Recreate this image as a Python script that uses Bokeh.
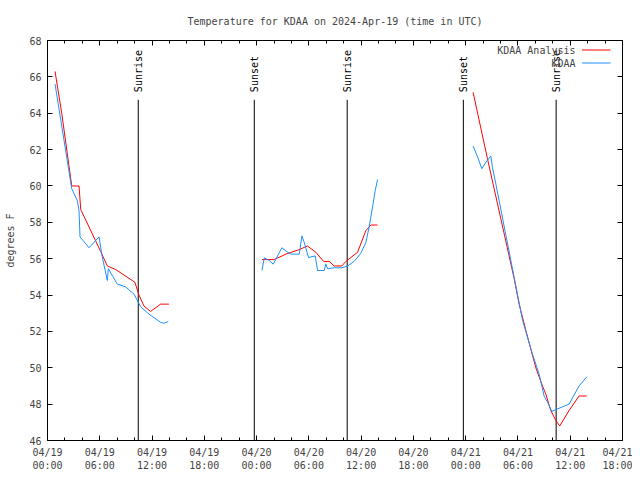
import math
from datetime import datetime
from bokeh.plotting import figure
from bokeh.models import FixedTicker, LinearAxis, Range1d, Label, Arrow
from bokeh.embed import file_html
from bokeh.resources import INLINE
from bokeh.core.properties import value

FONT = "DejaVu Sans Mono"
RED = "#ff0000"
BLUE = "#1e90ff"

# ---- data (UTC times, degrees F) ----
analysis_day1_times = ["04/19 00:52", "04/19 01:38", "04/19 02:47", "04/19 03:37", "04/19 03:49",
                       "04/19 06:06", "04/19 06:52", "04/19 07:50", "04/19 09:44", "04/19 10:02",
                       "04/19 10:30", "04/19 11:04", "04/19 11:50", "04/19 12:59", "04/19 13:56"]
analysis_day1_temps = [66.3, 64.0, 60.0, 60.0, 58.7, 56.4, 55.6, 55.4, 54.8, 54.7,
                       54.0, 53.4, 53.1, 53.5, 53.5]

analysis_day2_times = ["04/20 00:37", "04/20 02:01", "04/20 03:22", "04/20 04:54", "04/20 05:51",
                       "04/20 06:48", "04/20 07:42", "04/20 08:20", "04/20 08:54", "04/20 09:47",
                       "04/20 10:15", "04/20 11:35", "04/20 12:33", "04/20 13:07", "04/20 13:53"]
analysis_day2_temps = [55.95, 55.95, 56.25, 56.5, 56.7, 56.35, 55.85, 55.85, 55.6, 55.6,
                       55.85, 56.35, 57.55, 57.85, 57.85]

analysis_day3_times = ["04/21 00:51", "04/21 02:30", "04/21 05:34", "04/21 06:08", "04/21 07:06",
                       "04/21 08:03", "04/21 08:49", "04/21 09:12", "04/21 09:46", "04/21 10:21",
                       "04/21 10:48", "04/21 11:52", "04/21 13:01", "04/21 13:54"]
analysis_day3_temps = [65.15, 61.5, 54.9, 53.5, 51.7, 50.0, 49.0, 48.55, 47.65, 47.1,
                       46.8, 47.65, 48.45, 48.45]

obs_day1_times = ["04/19 00:52", "04/19 02:47", "04/19 03:25", "04/19 03:37", "04/19 03:44",
                  "04/19 04:46", "04/19 05:55", "04/19 06:17", "04/19 06:52", "04/19 06:59",
                  "04/19 08:01", "04/19 08:58", "04/19 09:56", "04/19 10:42", "04/19 11:39",
                  "04/19 12:59", "04/19 13:22", "04/19 13:52"]
obs_day1_temps = [65.6, 59.85, 59.2, 58.65, 57.2, 56.6, 57.2, 56.1, 54.8, 55.45,
                  54.6, 54.45, 54.05, 53.35, 52.95, 52.5, 52.45, 52.55]

obs_day2_times = ["04/20 00:37", "04/20 00:53", "04/20 01:27", "04/20 01:55", "04/20 02:54",
                  "04/20 03:34", "04/20 03:56", "04/20 04:54", "04/20 05:12", "04/20 05:28",
                  "04/20 05:58", "04/20 06:14", "04/20 06:44", "04/20 07:00", "04/20 07:46",
                  "04/20 07:57", "04/20 08:09", "04/20 08:54", "04/20 09:47", "04/20 10:27",
                  "04/20 11:12", "04/20 11:58", "04/20 12:33", "04/20 12:55", "04/20 13:19",
                  "04/20 13:37", "04/20 13:53"]
obs_day2_temps = [55.35, 56.05, 55.9, 55.7, 56.6, 56.35, 56.25, 56.25, 57.25, 56.9,
                  56.05, 56.1, 56.15, 55.35, 55.35, 55.7, 55.45, 55.5, 55.5, 55.6,
                  55.85, 56.3, 56.9, 57.75, 58.85, 59.75, 60.35]

obs_day3_times = ["04/21 00:51", "04/21 01:22", "04/21 01:51", "04/21 02:19", "04/21 02:53",
                  "04/21 03:05", "04/21 03:28", "04/21 05:38", "04/21 06:32", "04/21 07:40",
                  "04/21 08:26", "04/21 09:00", "04/21 09:24", "04/21 09:53", "04/21 10:21",
                  "04/21 11:52", "04/21 13:01", "04/21 13:54"]
obs_day3_temps = [62.2, 61.6, 60.95, 61.3, 61.65, 61.0, 60.1, 54.8, 52.6, 50.75,
                  49.65, 48.45, 48.1, 47.6, 47.7, 48.0, 49.0, 49.5]

sun_times = ["04/19 10:25", "04/19 23:44", "04/20 10:24", "04/20 23:44", "04/21 10:23"]
sun_labels = ["Sunrise", "Sunset", "Sunrise", "Sunset", "Sunrise"]

x_tick_hours = [0, 6, 12, 18, 24, 30, 36, 42, 48, 54, 60, 66]
x_tick_labels = ["04/19\n00:00", "04/19\n06:00", "04/19\n12:00", "04/19\n18:00",
                 "04/20\n00:00", "04/20\n06:00", "04/20\n12:00", "04/20\n18:00",
                 "04/21\n00:00", "04/21\n06:00", "04/21\n12:00", "04/21\n18:00"]
x_minor_hours = list(range(0, 67, 2))
y_ticks = [46, 48, 50, 52, 54, 56, 58, 60, 62, 64, 66, 68]

YEAR = 2024
BASE = datetime(YEAR, 4, 19)


def hours(ts):
    d = datetime.strptime(f"{YEAR}/{ts}", "%Y/%m/%d %H:%M")
    return (d - BASE).total_seconds() / 3600.0


def joined(segments):
    xs, ys = [], []
    for i, (t, v) in enumerate(segments):
        if i:
            xs.append(float("nan"))
            ys.append(float("nan"))
        xs += [hours(s) for s in t]
        ys += list(v)
    return xs, ys


ax, ay = joined([(analysis_day1_times, analysis_day1_temps),
                 (analysis_day2_times, analysis_day2_temps),
                 (analysis_day3_times, analysis_day3_temps)])
ox, oy = joined([(obs_day1_times, obs_day1_temps),
                 (obs_day2_times, obs_day2_temps),
                 (obs_day3_times, obs_day3_temps)])

p = figure(width=632, height=474, output_backend="svg", toolbar_location=None,
           x_range=Range1d(0, 66), y_range=Range1d(46, 68),
           frame_width=575, frame_height=400,
           min_border_left=47, min_border_right=10, min_border_top=40, min_border_bottom=34,
           title="Temperature for KDAA on 2024-Apr-19 (time in UTC)")
p.background_fill_color = "white"
p.border_fill_color = "white"
p.outline_line_color = "black"
p.outline_line_width = 1
p.grid.visible = False

p.title.align = "center"
p.title.text_font = FONT
p.title.text_font_size = "10px"
p.title.text_font_style = "normal"
p.title.standoff = 27

xticker = FixedTicker(ticks=x_tick_hours, minor_ticks=x_minor_hours)
yticker = FixedTicker(ticks=y_ticks, minor_ticks=[])

for ax_ in p.xaxis:
    ax_.ticker = xticker
    ax_.major_label_overrides = {h: lab for h, lab in zip(x_tick_hours, x_tick_labels)}
for ax_ in p.yaxis:
    ax_.ticker = yticker
    ax_.axis_label = "degrees F"
    ax_.axis_label_standoff = 10
    ax_.axis_label_text_font = FONT
    ax_.axis_label_text_font_size = "10px"
    ax_.axis_label_text_font_style = "normal"

for a in list(p.xaxis) + list(p.yaxis):
    a.axis_line_color = None
    a.major_tick_in = 5
    a.major_tick_out = 0
    a.minor_tick_in = 3
    a.minor_tick_out = 0
    a.major_tick_line_color = "black"
    a.minor_tick_line_color = "black"
    a.major_label_text_font = FONT
    a.major_label_text_font_size = "10px"
    a.major_label_standoff = 6

# mirrored ticks on top and right (no labels)
top = LinearAxis(ticker=xticker, major_label_text_font_size="0px", major_label_text_color=None,
                 axis_line_color=None, major_tick_in=5, major_tick_out=0,
                 minor_tick_in=3, minor_tick_out=0, major_label_standoff=0)
right = LinearAxis(ticker=yticker, major_label_text_font_size="0px", major_label_text_color=None,
                   axis_line_color=None, major_tick_in=5, major_tick_out=0,
                   minor_tick_in=0, minor_tick_out=0, major_label_standoff=0)
p.add_layout(top, "above")
p.add_layout(right, "right")

# sunrise / sunset markers
sun_x = [hours(s) for s in sun_times]
p.segment(x0=sun_x, y0=[46] * len(sun_x), x1=sun_x, y1=[64.74] * len(sun_x),
          line_color="black", line_width=1)
p.text(x=sun_x, y=[65.16] * len(sun_x), text=sun_labels, angle=math.pi / 2,
       text_align="left", text_baseline="middle", text_font=value(FONT),
       text_font_size="10px", text_color="black")

# data lines
p.line(ax, ay, line_color=RED, line_width=1)
p.line(ox, oy, line_color=BLUE, line_width=1)

# legend (gnuplot style: text right-aligned, sample on the right)
p.add_layout(Label(x=528, y=390, x_units="screen", y_units="screen", text="KDAA Analysis",
                   text_align="right", text_baseline="middle", text_font=FONT,
                   text_font_size="10px"))
p.add_layout(Label(x=528, y=377, x_units="screen", y_units="screen", text="KDAA",
                   text_align="right", text_baseline="middle", text_font=FONT,
                   text_font_size="10px"))
p.add_layout(Arrow(x_start=534.5, y_start=390.5, x_end=563, y_end=390.5,
                   start_units="screen", end_units="screen", start=None, end=None,
                   line_color=RED, line_width=1))
p.add_layout(Arrow(x_start=534.5, y_start=377.5, x_end=563, y_end=377.5,
                   start_units="screen", end_units="screen", start=None, end=None,
                   line_color=BLUE, line_width=1))

open("out.html", "w").write(file_html(p, INLINE))
